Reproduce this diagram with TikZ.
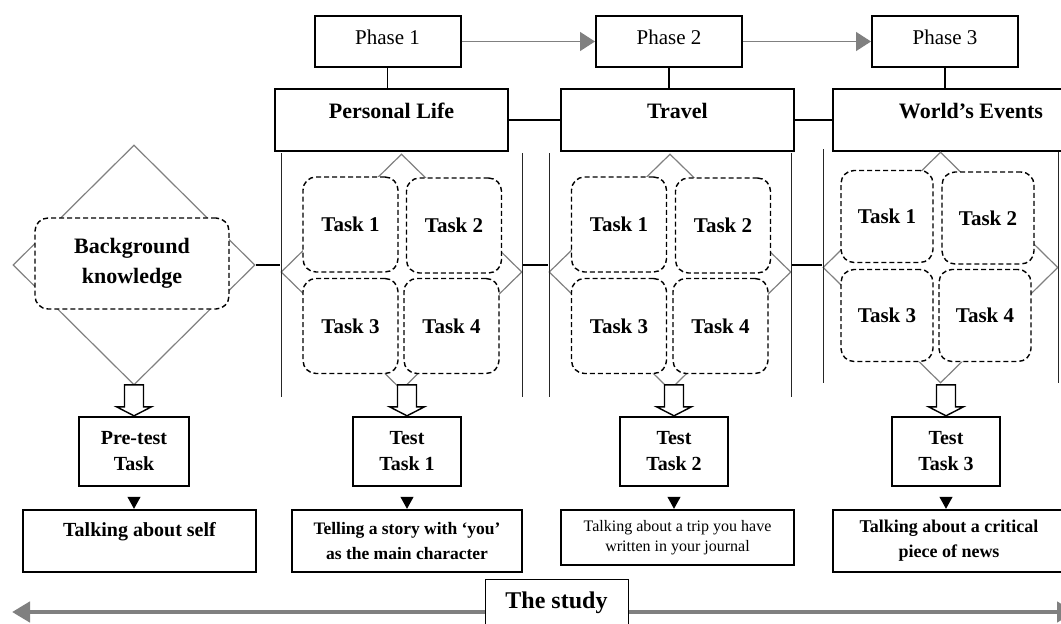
\documentclass[tikz,border=0pt]{standalone}
\usepackage{fontspec}
\setmainfont{Liberation Serif}
\usetikzlibrary{shapes.geometric,arrows.meta,calc}
\begin{document}
\begin{tikzpicture}[x=1pt,y=-1pt,
	phasebox/.style={draw,line width=2pt,minimum width=146pt,inner xsep=0pt,inner ysep=0pt,text height=28pt,text depth=23pt,font=\fontsize{21}{25}\selectfont},
	topicbox/.style={draw,line width=2pt,minimum width=233pt,inner xsep=0pt,inner ysep=0pt,text height=29pt,text depth=33pt,font=\fontsize{22}{26}\selectfont\bfseries},
	taskbox/.style={draw,fill=white,dash pattern=on 5pt off 3pt,line width=1.4pt,rounded corners=13pt,minimum width=95pt,minimum height=95pt,inner sep=0pt,align=center,font=\fontsize{21}{30}\selectfont\bfseries},
	bigdiamond/.style={diamond,draw=gray,line width=1.2pt,inner sep=0pt},
	frameline/.style={black!85,line width=0.9pt},
	joinline/.style={line width=1.4pt},
	phasearrow/.style={gray,line width=1.4pt,-{Triangle[length=15pt,width=19pt]}},
	hollowarrow/.style={draw,fill=white,line width=1.4pt,line join=miter},
	testbox/.style={draw,line width=2.4pt,minimum width=108pt,minimum height=69pt,inner sep=0pt,align=center,font=\fontsize{20}{26}\selectfont\bfseries},
	outbox/.style={draw,line width=2.4pt,minimum width=233pt,minimum height=62pt,inner sep=0pt,align=center},
	drop/.style={line width=1pt,shorten <=12pt,-{Triangle[length=12pt,width=13pt]}},
	studyarrow/.style={gray,line width=4.5pt,{Triangle[length=18pt,width=20pt]}-{Triangle[length=18pt,width=20pt]}}
	]
	\useasboundingbox (0,0) rectangle (1061,624);
	\node[phasebox] (ph1) at (387.5,41.5){Phase 1};
	\node[phasebox] (ph2) at (669,41.5){Phase 2};
	\node[phasebox] (ph3) at (945,41.5){Phase 3};
	\node[topicbox] (life) at (391.5,120){Personal Life};
	\node[topicbox] (travel) at (677.5,120){Travel};
	\node[topicbox,minimum width=276pt] (world) at (971,120){World’s Events};
	\draw[phasearrow](ph1.east)--(ph2.west);
	\draw[phasearrow](ph2.east)--(ph3.west);
	\draw[joinline](ph1.south)--(ph1.south |- life.north);
	\draw[joinline](ph2.south)--(ph2.south |- travel.north);
	\draw[joinline](ph3.south)--(ph3.south |- world.north);
	\draw[joinline](life.east)--(travel.west);
	\draw[joinline](travel.east)--(world.west);
	\node[bigdiamond,minimum width=242pt,minimum height=240pt] (dbg) at (134,265){};
	\node[bigdiamond,minimum width=241pt,minimum height=236pt] (d1) at (401.5,272){};
	\node[bigdiamond,minimum width=242pt,minimum height=236pt] (d2) at (670,272){};
	\node[bigdiamond,minimum width=235pt,minimum height=231pt] (d3) at (940.5,267.5){};
	\draw[frameline](281,153)--(281,397);
	\draw[frameline](522,153)--(522,397);
	\draw[frameline](549,153)--(549,397);
	\draw[frameline](791,153)--(791,397);
	\draw[frameline](823,149)--(823,383);
	\draw[frameline](1058,152)--(1058,383);
	\draw[joinline](dbg.east)--(dbg.east -| d1.west);
	\draw[joinline](d1.east |- dbg.east)--(d2.west |- dbg.east);
	\draw[joinline](d2.east |- dbg.east)--(d3.west |- dbg.east);
	\node[taskbox,minimum width=194pt,minimum height=91pt,font=\fontsize{22}{30}\selectfont\bfseries] (bg) at (132,263.5){Background\\knowledge};
	\node[taskbox] (t11) at (350.5,224.5){Task 1};
	\node[taskbox] (t12) at (454,225.5){Task 2};
	\node[taskbox] (t13) at (350.5,326){Task 3};
	\node[taskbox] (t14) at (451.5,326){Task 4};
	\node[taskbox] (t21) at (619,224.5){Task 1};
	\node[taskbox] (t22) at (723,225.5){Task 2};
	\node[taskbox] (t23) at (619,326){Task 3};
	\node[taskbox] (t24) at (720.5,326){Task 4};
	\node[taskbox,minimum width=92pt,minimum height=92pt] (t31) at (887,216.5){Task 1};
	\node[taskbox,minimum width=92pt,minimum height=92pt] (t32) at (988,218){Task 2};
	\node[taskbox,minimum width=92pt,minimum height=92pt] (t33) at (887,315.5){Task 3};
	\node[taskbox,minimum width=92pt,minimum height=92pt] (t34) at (985,315.5){Task 4};
	\node[testbox,minimum width=110pt] (pre) at (134,451.5){Pre-test\\Task};
	\node[testbox] (test1) at (407,451.5){Test\\Task 1};
	\node[testbox] (test2) at (674,451.5){Test\\Task 2};
	\node[testbox] (test3) at (946,451.5){Test\\Task 3};
	\draw[hollowarrow]($(pre.north)+(-9.5,-31)$)--++(19,0)--++(0,22)--++(8,0)--(pre.north)--++(-17.5,-9)--++(8,0)--cycle;
	\draw[hollowarrow]($(test1.north)+(-9.5,-31)$)--++(19,0)--++(0,22)--++(8,0)--(test1.north)--++(-17.5,-9)--++(8,0)--cycle;
	\draw[hollowarrow]($(test2.north)+(-9.5,-31)$)--++(19,0)--++(0,22)--++(8,0)--(test2.north)--++(-17.5,-9)--++(8,0)--cycle;
	\draw[hollowarrow]($(test3.north)+(-9.5,-31)$)--++(19,0)--++(0,22)--++(8,0)--(test3.north)--++(-17.5,-9)--++(8,0)--cycle;
	\node[outbox,text height=26.6pt,text depth=35.4pt,font=\fontsize{20}{25}\selectfont\bfseries] (self) at (139.5,541){Talking about self};
	\node[outbox,minimum width=230pt,font=\fontsize{17.5}{25}\selectfont\bfseries] (story) at (407,541){Telling a story with ‘you’\\as the main character};
	\node[outbox,minimum height=55pt,font=\fontsize{16}{20}\selectfont] (trip) at (677.5,537.5){Talking about a trip you have\\written in your journal};
	\node[outbox,minimum width=232pt,font=\fontsize{18}{25}\selectfont\bfseries] (news) at (949,541){Talking about a critical\\piece of news};
	\draw[drop](pre.south)--(pre.south |- self.north);
	\draw[drop](test1.south)--(test1.south |- story.north);
	\draw[drop](test2.south)--(test2.south |- trip.north);
	\draw[drop](test3.south)--(test3.south |- news.north);
	\coordinate (lend) at (12,612);
	\coordinate (rend) at (1075,612);
	\draw[studyarrow](lend)--(rend);
	\node[draw,fill=white,line width=1pt,minimum width=143pt,inner xsep=0pt,inner ysep=0pt,text height=29pt,text depth=21pt,font=\fontsize{24}{28}\selectfont\bfseries] (study) at (556.5,604){The study};
\end{tikzpicture}
\end{document}
